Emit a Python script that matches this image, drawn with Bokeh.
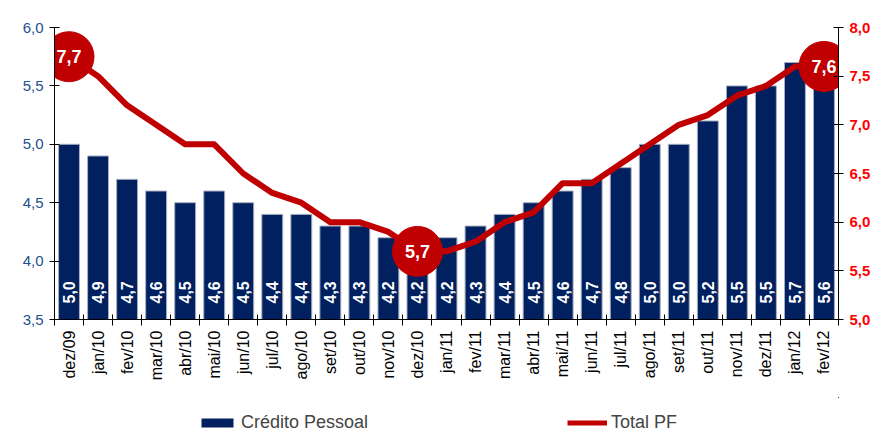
import math
from bokeh.plotting import figure
from bokeh.layouts import column
from bokeh.models import (Range1d, LinearAxis, FixedTicker, CustomJSTickFormatter,
                          ColumnDataSource, Legend, LegendItem)
from bokeh.core.properties import value
from bokeh.embed import file_html
from bokeh.resources import INLINE

categories = ["dez/09", "jan/10", "fev/10", "mar/10", "abr/10", "mai/10", "jun/10",
              "jul/10", "ago/10", "set/10", "out/10", "nov/10", "dez/10", "jan/11",
              "fev/11", "mar/11", "abr/11", "mai/11", "jun/11", "jul/11", "ago/11",
              "set/11", "out/11", "nov/11", "dez/11", "jan/12", "fev/12"]
credito_pessoal = [5.0, 4.9, 4.7, 4.6, 4.5, 4.6, 4.5, 4.4, 4.4, 4.3, 4.3, 4.2, 4.2, 4.2,
                   4.3, 4.4, 4.5, 4.6, 4.7, 4.8, 5.0, 5.0, 5.2, 5.5, 5.5, 5.7, 5.6]
total_pf = [7.7, 7.5, 7.2, 7.0, 6.8, 6.8, 6.5, 6.3, 6.2, 6.0, 6.0, 5.9, 5.7, 5.7,
            5.8, 6.0, 6.1, 6.4, 6.4, 6.6, 6.8, 7.0, 7.1, 7.3, 7.4, 7.6, 7.6]
highlight_idx = [0, 12, 26]
left_ticks = [3.5, 4.0, 4.5, 5.0, 5.5, 6.0]
right_ticks = [5.0, 5.5, 6.0, 6.5, 7.0, 7.5, 8.0]
series_names = ["Crédito Pessoal", "Total PF"]

NAVY = "#00205F"
RED = "#C00000"
FONT = "Liberation Sans"

def fmt(v):
    return f"{v:.1f}".replace(".", ",")

n = len(categories)
xs = list(range(n))

bar_src = ColumnDataSource(dict(x=xs, top=credito_pessoal,
                                lbl=[fmt(v) for v in credito_pessoal],
                                base=[left_ticks[0]] * n))
line_src = ColumnDataSource(dict(x=xs, y=total_pf))
hl_src = ColumnDataSource(dict(x=[xs[i] for i in highlight_idx],
                               y=[total_pf[i] for i in highlight_idx],
                               lbl=[fmt(total_pf[i]) for i in highlight_idx]))

p = figure(width=885, height=397, output_backend="svg", toolbar_location=None,
           x_range=Range1d(-0.5, n - 0.5),
           y_range=Range1d(left_ticks[0], left_ticks[-1]),
           min_border_left=54, min_border_right=47, min_border_top=27,
           min_border_bottom=78)
p.extra_y_ranges = {"pf": Range1d(right_ticks[0], right_ticks[-1])}
p.outline_line_color = None
p.xgrid.visible = False
p.ygrid.visible = False

comma = CustomJSTickFormatter(code="return tick.toFixed(1).replace('.', ',');")

# x axis
xa = p.xaxis[0]
xa.ticker = FixedTicker(ticks=xs, minor_ticks=[i - 0.5 for i in range(n + 1)])
xa.major_label_overrides = {i: c for i, c in enumerate(categories)}
xa.major_label_orientation = math.pi / 2
xa.major_tick_in = 0
xa.major_tick_out = 0
xa.minor_tick_in = 5
xa.minor_tick_out = 6
xa.minor_tick_line_color = "black"
xa.axis_line_color = "black"
xa.major_label_text_font = FONT
xa.major_label_text_font_size = "16px"
xa.major_label_text_color = "black"
xa.major_label_standoff = 5

# left y axis
ya = p.yaxis[0]
ya.ticker = FixedTicker(ticks=left_ticks)
ya.formatter = comma
ya.major_tick_in = 5
ya.major_tick_out = 5
ya.minor_tick_line_color = None
ya.axis_line_color = "black"
ya.major_tick_line_color = "black"
ya.major_label_text_font = FONT
ya.major_label_text_font_size = "15px"
ya.major_label_text_color = "#24508F"
ya.major_label_standoff = 6

# right y axis
ra = LinearAxis(y_range_name="pf", ticker=FixedTicker(ticks=right_ticks), formatter=comma)
ra.major_tick_in = 5
ra.major_tick_out = 5
ra.minor_tick_line_color = None
ra.axis_line_color = "black"
ra.major_label_text_font = FONT
ra.major_label_text_font_size = "15px"
ra.major_label_text_font_style = "bold"
ra.major_label_text_color = "#FF0000"
ra.major_label_standoff = 6
p.add_layout(ra, "right")

p.vbar(x="x", top="top", bottom="base", width=0.72, source=bar_src,
       fill_color=NAVY, line_color="#A8AEC0", line_width=1)
p.text(x="x", y="base", text="lbl", source=bar_src, angle=math.pi / 2,
       text_align="left", text_baseline="middle", y_offset=-16,
       text_color="white", text_font=value(FONT), text_font_style="bold",
       text_font_size="16px")

p.line(x="x", y="y", source=line_src, y_range_name="pf",
       line_color=RED, line_width=6, line_join="round")
p.scatter(x="x", y="y", source=hl_src, y_range_name="pf", size=50,
          fill_color=RED, line_color=RED)
p.text(x="x", y="y", text="lbl", source=hl_src, y_range_name="pf",
       text_align="center", text_baseline="middle", text_color="white",
       text_font=value(FONT), text_font_style="bold", text_font_size="18px")

# legend strip below the chart (series lie far outside its visible ranges,
# only the legend shows)
lg = figure(width=885, height=40, output_backend="svg", toolbar_location=None,
            x_axis_location=None, y_axis_location=None,
            min_border_left=0, min_border_right=0, min_border_top=0,
            min_border_bottom=0, x_range=Range1d(-1000, -999),
            y_range=Range1d(-1000, -999))
lg.outline_line_color = None
lg.xgrid.visible = False
lg.ygrid.visible = False
r_bar = lg.vbar(x="x", top="top", bottom="base", width=0.72, source=bar_src,
                fill_color=NAVY, line_color=None)
r_line = lg.line(x="x", y="y", source=line_src, line_color=RED, line_width=5)

legend = Legend(items=[LegendItem(label=series_names[0], renderers=[r_bar]),
                       LegendItem(label=series_names[1], renderers=[r_line])],
                orientation="horizontal", location=(143, 4),
                spacing=199, glyph_width=40, glyph_height=11, padding=5,
                label_text_font=FONT, label_text_font_size="18px",
                label_standoff=4, border_line_color=None,
                background_fill_alpha=0)
lg.add_layout(legend, "center")

layout = column(p, lg, spacing=0)
open("out.html", "w").write(file_html(layout, INLINE))
